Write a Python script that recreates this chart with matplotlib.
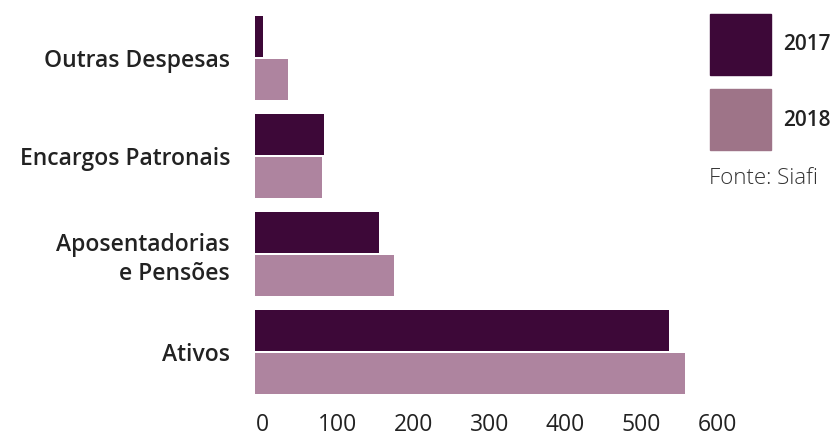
import matplotlib

matplotlib.use("Agg")
import matplotlib.pyplot as plt
import matplotlib.transforms as mtransforms
import numpy as np

categories = ["Ativos", "Aposentadorias\ne Pensões", "Encargos Patronais", "Outras Despesas"]
values_2017 = [546, 163.5, 91, 10.5]
values_2018 = [567, 183.5, 88.5, 43.5]
x_ticks = [0, 100, 200, 300, 400, 500, 600]

COLOR_2017 = "#3d0838"
COLOR_2018 = "#ae849f"
LEGEND_2018 = "#9e7488"
TEXT = "#222222"

plt.rcParams["font.family"] = ["Open Sans", "DejaVu Sans"]

fig = plt.figure(figsize=(8.36, 4.4), dpi=100)
W, H = 836, 440
ax = fig.add_axes([255 / W, 40 / H, 455 / W, 400 / H])

y = np.arange(len(categories))
bar_h = 0.418
off = 0.222
ax.barh(y + off, values_2017, height=bar_h, color=COLOR_2017)
ax.barh(y - off, values_2018, height=bar_h, color=COLOR_2018)

ax.set_xlim(0, 600)
ax.set_ylim(-0.49, 3.592)
ax.set_xticks(x_ticks)
ax.set_xticklabels([str(v) for v in x_ticks], fontsize=16.5, color=TEXT)
ax.set_yticks(y)
ax.set_yticklabels(categories, fontsize=16.5, color=TEXT, fontweight="semibold",
                   linespacing=1.3)
ax.tick_params(axis="both", length=0)
ax.tick_params(axis="x", pad=9)
ax.tick_params(axis="y", pad=18)
for lbl in ax.get_xticklabels():
    lbl.set_transform(lbl.get_transform() + mtransforms.ScaledTranslation(7 / 100, 0, fig.dpi_scale_trans))
for s in ax.spines.values():
    s.set_visible(False)

# legend swatches
fig.patches.append(plt.Rectangle((710 / W, 1 - 75 / H), 61 / W, 61 / H,
                                 transform=fig.transFigure, color=COLOR_2017))
fig.patches.append(plt.Rectangle((710 / W, 1 - 150 / H), 61 / W, 61 / H,
                                 transform=fig.transFigure, color=LEGEND_2018))
fig.text(783 / W, 1 - 45 / H, "2017", fontsize=15, fontweight="semibold", color=TEXT, va="center", ha="left")
fig.text(783 / W, 1 - 120 / H, "2018", fontsize=15, fontweight="semibold", color=TEXT, va="center", ha="left")
fig.text(709 / W, 1 - 179 / H, "Fonte: Siafi", fontsize=16, fontweight="light", color="#333333",
         va="center", ha="left")

fig.savefig("out.png", dpi=100)
